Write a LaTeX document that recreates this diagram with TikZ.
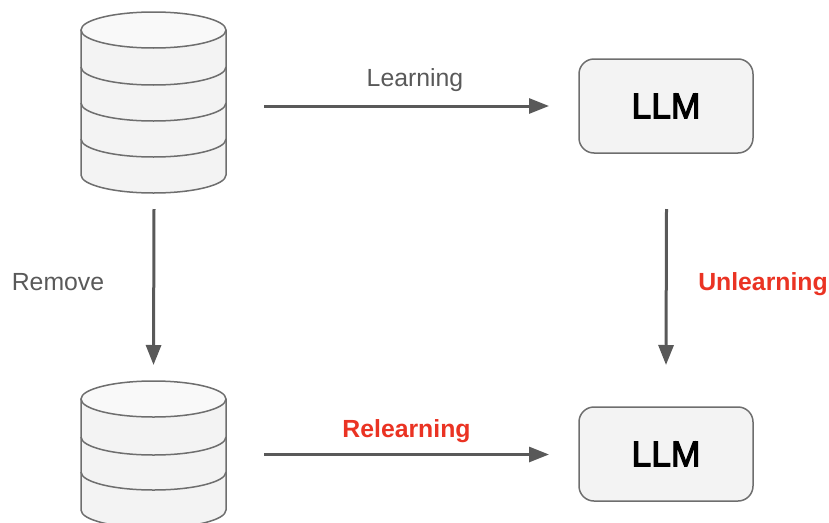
\documentclass[tikz,border=0pt]{standalone}
\usepackage{fontspec}
\setmainfont{Liberation Sans}
\newfontfamily\llmfont[FakeBold=3.2]{Liberation Sans}
\usetikzlibrary{arrows.meta}
\definecolor{ln}{HTML}{595959}
\definecolor{bd}{HTML}{6E6E6E}
\definecolor{fillb}{HTML}{F3F3F3}
\definecolor{filltop}{HTML}{F9F9F9}
\definecolor{redt}{HTML}{EA3323}
\tikzset{
  llm/.style={draw=bd,line width=1.5pt,fill=fillb,rounded corners=15pt,minimum width=174pt,minimum height=94pt,inner sep=0pt,font=\llmfont\fontsize{35.5}{40}\selectfont,text=black},
  flow/.style={draw=ln,line width=3pt,-{Triangle[length=20pt,width=15pt]},shorten >=0pt},
  lbl/.style={text=ln,font=\fontsize{24.8}{28}\selectfont,inner sep=0pt},
  hot/.style={text=redt,font=\fontsize{24.8}{28}\selectfont\bfseries,inner sep=0pt},
  cyl/.style={draw=bd,line width=1.5pt}
}
% #1 top-centre y, #2 bottom-centre y, #3 list of band centre y
\newcommand{\drum}[3]{%
  \fill[fillb] (81,#1) -- (81,#2) arc[start angle=180,end angle=360,x radius=72.5,y radius=-18] -- (226,#1) -- cycle;
  \fill[filltop] (153.5,#1) ellipse[x radius=72.5,y radius=18];
  \draw[cyl] (153.5,#1) ellipse[x radius=72.5,y radius=18];
  \draw[cyl] (81,#1) -- (81,#2) arc[start angle=180,end angle=360,x radius=72.5,y radius=-18] -- (226,#1);
  \foreach \yy in {#3}{\draw[cyl] (81,\yy) arc[start angle=180,end angle=360,x radius=72.5,y radius=-18];}
}
\begin{document}
\begin{tikzpicture}[x=1pt,y=-1pt]
\useasboundingbox (0,0) rectangle (829,522);
\begin{scope}
\clip (0,0) rectangle (829,522);
\drum{30}{175}{67,103,139}
\drum{399}{510}{437,472}
\end{scope}
\node[llm] (m1) at (666,106) {LLM};
\node[llm] (m2) at (666,454) {LLM};
\coordinate (a1) at (264,106);
\coordinate (a2) at (549,106);
\coordinate (b1) at (264,454.5);
\coordinate (b2) at (549,454.5);
\coordinate (c1) at (154,209);
\coordinate (c2) at (153.5,365);
\coordinate (d1) at (666.5,209);
\coordinate (d2) at (666,365);
\draw[flow] (a1) -- (a2);
\draw[flow] (b1) -- (b2);
\draw[flow] (c1) -- (c2);
\draw[flow] (d1) -- (d2);
\node[lbl] (learn) at (415,80) {Learning};
\node[lbl] (rem) at (58,282) {Remove};
\node[hot] (unl) at (763,284.5) {Unlearning};
\node[hot] (rel) at (406.5,431.5) {Relearning};
\end{tikzpicture}
\end{document}
